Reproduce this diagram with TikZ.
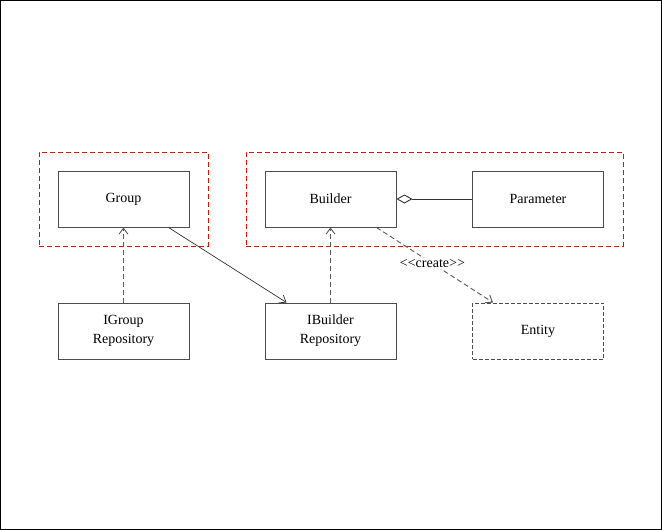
\documentclass[tikz,border=0pt]{standalone}
\usepackage{fontspec}
\setmainfont{Liberation Serif}
\usepackage{tikz}
\usetikzlibrary{arrows.meta}

\begin{document}
\begin{tikzpicture}[x=1pt,y=-1pt,>={Straight Barb[length=6pt,width=9pt]},
                    font=\fontsize{14}{19}\selectfont]
  \tikzstyle{class}=[draw=black!70,line width=0.9pt,minimum width=131pt,
    minimum height=56pt,align=center,inner sep=0pt]
  \tikzstyle{module}=[draw=red,dash pattern=on 5pt off 3pt,line width=0.9pt,inner sep=0pt]
  \tikzstyle{depend}=[draw=black!65,dash pattern=on 5pt off 3pt,line width=0.9pt]
  \useasboundingbox (0,0) rectangle (662,530);
  \draw[black,line width=0.8pt] (0.5,0.5) rectangle (661.5,529.5);
  \node[module,minimum width=169pt,minimum height=94pt] (left) at (123.5,199) {};
  \node[module,minimum width=377pt,minimum height=94pt] (right) at (434.5,199) {};
  \node[class] (group) at (123.5,199) {Group};
  \node[class] (builder) at (330.5,199) {Builder};
  \node[class] (param) at (538,199) {Parameter};
  \node[class] (igrouprepo) at (123.5,331) {IGroup\\Repository};
  \node[class] (ibuilderrepo) at (330.5,331) {IBuilder\\Repository};
  \node[class,dash pattern=on 4pt off 2pt] (entity) at (538,331) {Entity};
  \draw[depend,->] (igrouprepo) -- (group);
  \draw[depend,->] (ibuilderrepo) -- (builder);
  \draw[black!80,line width=0.7pt,->] (group.south east) ++(-21,0) coordinate (gs)
        (gs) -- ([xshift=22pt]ibuilderrepo.north west);
  \draw[depend,->] ([xshift=-20pt]builder.south east)
        -- node[fill=white,inner sep=1pt,pos=0.48] {<{}<create>{}>}
        ([xshift=21pt]entity.north west);
  \draw[black!80,line width=0.9pt,{Diamond[open,length=16pt,width=9pt]}-] (builder) -- (param);
\end{tikzpicture}
\end{document}
